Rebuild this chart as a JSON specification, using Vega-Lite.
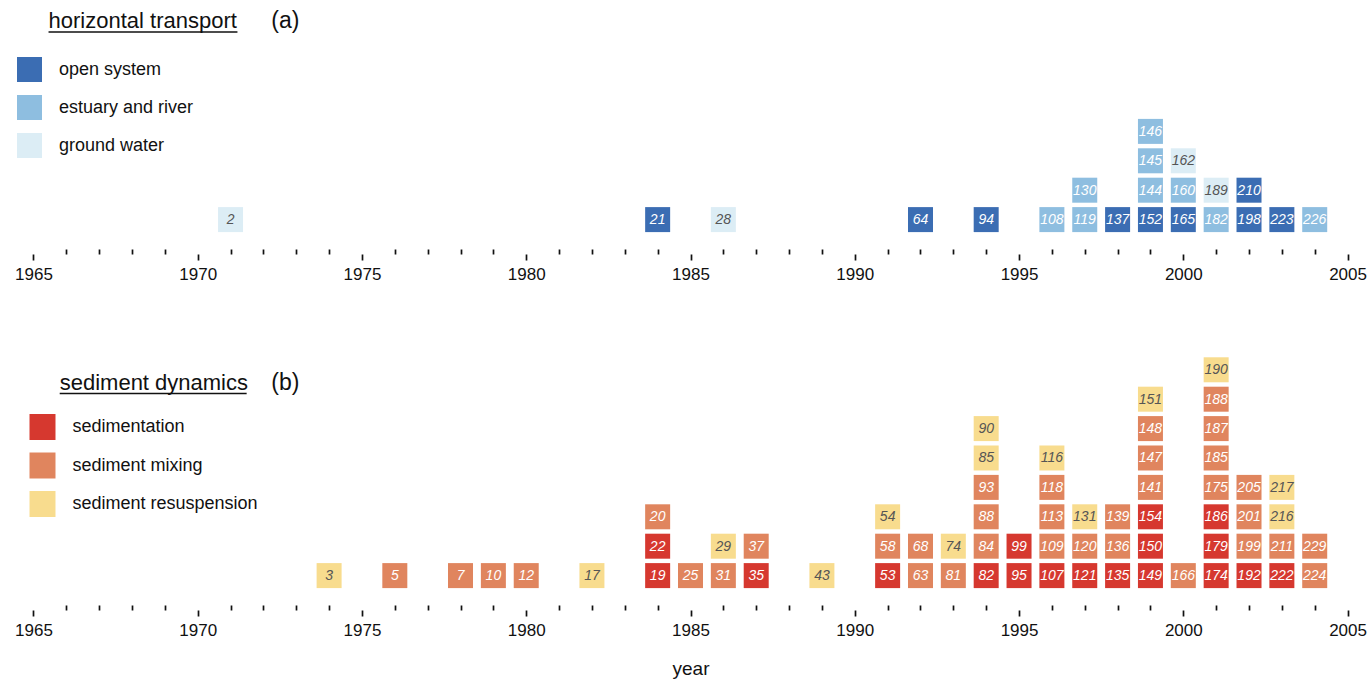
{
  "$schema": "https://vega.github.io/schema/vega-lite/v6.json",
  "background": "white",
  "padding": {"left": 14, "top": 0, "right": 5, "bottom": 5},
  "config": {"view": {"stroke": null}, "font": "Liberation Sans"},
  "spacing": 74,
  "resolve": {"scale": {"color": "independent"}},
  "datasets": {
    "transport": [
      {"year": 1971, "id": 2, "type": "ground water"},
      {"year": 1984, "id": 21, "type": "open system"},
      {"year": 1986, "id": 28, "type": "ground water"},
      {"year": 1992, "id": 64, "type": "open system"},
      {"year": 1994, "id": 94, "type": "open system"},
      {"year": 1996, "id": 108, "type": "estuary and river"},
      {"year": 1997, "id": 119, "type": "estuary and river"},
      {"year": 1997, "id": 130, "type": "estuary and river"},
      {"year": 1998, "id": 137, "type": "open system"},
      {"year": 1999, "id": 152, "type": "open system"},
      {"year": 1999, "id": 144, "type": "estuary and river"},
      {"year": 1999, "id": 145, "type": "estuary and river"},
      {"year": 1999, "id": 146, "type": "estuary and river"},
      {"year": 2000, "id": 165, "type": "open system"},
      {"year": 2000, "id": 160, "type": "estuary and river"},
      {"year": 2000, "id": 162, "type": "ground water"},
      {"year": 2001, "id": 182, "type": "estuary and river"},
      {"year": 2001, "id": 189, "type": "ground water"},
      {"year": 2002, "id": 198, "type": "open system"},
      {"year": 2002, "id": 210, "type": "open system"},
      {"year": 2003, "id": 223, "type": "open system"},
      {"year": 2004, "id": 226, "type": "estuary and river"}
    ],
    "sediment": [
      {"year": 1974, "id": 3, "type": "sediment resuspension"},
      {"year": 1976, "id": 5, "type": "sediment mixing"},
      {"year": 1978, "id": 7, "type": "sediment mixing"},
      {"year": 1979, "id": 10, "type": "sediment mixing"},
      {"year": 1980, "id": 12, "type": "sediment mixing"},
      {"year": 1982, "id": 17, "type": "sediment resuspension"},
      {"year": 1984, "id": 19, "type": "sedimentation"},
      {"year": 1984, "id": 22, "type": "sedimentation"},
      {"year": 1984, "id": 20, "type": "sediment mixing"},
      {"year": 1985, "id": 25, "type": "sediment mixing"},
      {"year": 1986, "id": 31, "type": "sediment mixing"},
      {"year": 1986, "id": 29, "type": "sediment resuspension"},
      {"year": 1987, "id": 35, "type": "sedimentation"},
      {"year": 1987, "id": 37, "type": "sediment mixing"},
      {"year": 1989, "id": 43, "type": "sediment resuspension"},
      {"year": 1991, "id": 53, "type": "sedimentation"},
      {"year": 1991, "id": 58, "type": "sediment mixing"},
      {"year": 1991, "id": 54, "type": "sediment resuspension"},
      {"year": 1992, "id": 63, "type": "sediment mixing"},
      {"year": 1992, "id": 68, "type": "sediment mixing"},
      {"year": 1993, "id": 81, "type": "sediment mixing"},
      {"year": 1993, "id": 74, "type": "sediment resuspension"},
      {"year": 1994, "id": 82, "type": "sedimentation"},
      {"year": 1994, "id": 84, "type": "sediment mixing"},
      {"year": 1994, "id": 88, "type": "sediment mixing"},
      {"year": 1994, "id": 93, "type": "sediment mixing"},
      {"year": 1994, "id": 85, "type": "sediment resuspension"},
      {"year": 1994, "id": 90, "type": "sediment resuspension"},
      {"year": 1995, "id": 95, "type": "sedimentation"},
      {"year": 1995, "id": 99, "type": "sedimentation"},
      {"year": 1996, "id": 107, "type": "sedimentation"},
      {"year": 1996, "id": 109, "type": "sediment mixing"},
      {"year": 1996, "id": 113, "type": "sediment mixing"},
      {"year": 1996, "id": 118, "type": "sediment mixing"},
      {"year": 1996, "id": 116, "type": "sediment resuspension"},
      {"year": 1997, "id": 121, "type": "sedimentation"},
      {"year": 1997, "id": 120, "type": "sediment mixing"},
      {"year": 1997, "id": 131, "type": "sediment resuspension"},
      {"year": 1998, "id": 135, "type": "sedimentation"},
      {"year": 1998, "id": 136, "type": "sediment mixing"},
      {"year": 1998, "id": 139, "type": "sediment mixing"},
      {"year": 1999, "id": 149, "type": "sedimentation"},
      {"year": 1999, "id": 150, "type": "sedimentation"},
      {"year": 1999, "id": 154, "type": "sedimentation"},
      {"year": 1999, "id": 141, "type": "sediment mixing"},
      {"year": 1999, "id": 147, "type": "sediment mixing"},
      {"year": 1999, "id": 148, "type": "sediment mixing"},
      {"year": 1999, "id": 151, "type": "sediment resuspension"},
      {"year": 2000, "id": 166, "type": "sediment mixing"},
      {"year": 2001, "id": 174, "type": "sedimentation"},
      {"year": 2001, "id": 179, "type": "sedimentation"},
      {"year": 2001, "id": 186, "type": "sedimentation"},
      {"year": 2001, "id": 175, "type": "sediment mixing"},
      {"year": 2001, "id": 185, "type": "sediment mixing"},
      {"year": 2001, "id": 187, "type": "sediment mixing"},
      {"year": 2001, "id": 188, "type": "sediment mixing"},
      {"year": 2001, "id": 190, "type": "sediment resuspension"},
      {"year": 2002, "id": 192, "type": "sedimentation"},
      {"year": 2002, "id": 199, "type": "sediment mixing"},
      {"year": 2002, "id": 201, "type": "sediment mixing"},
      {"year": 2002, "id": 205, "type": "sediment mixing"},
      {"year": 2003, "id": 222, "type": "sedimentation"},
      {"year": 2003, "id": 211, "type": "sediment mixing"},
      {"year": 2003, "id": 216, "type": "sediment resuspension"},
      {"year": 2003, "id": 217, "type": "sediment resuspension"},
      {"year": 2004, "id": 224, "type": "sediment mixing"},
      {"year": 2004, "id": 229, "type": "sediment mixing"}
    ]
  },
  "vconcat": [
    {
      "width": 1347,
      "height": 249,
      "layer": [
        {
          "data": {"name": "transport"},
          "transform": [{"window": [{"op": "row_number", "as": "lvl"}], "groupby": ["year"]}],
          "layer": [
            {
              "mark": {"type": "square", "size": 625, "opacity": 1, "filled": true},
              "encoding": {
                "x": {
                  "field": "year", "type": "quantitative",
                  "scale": {"domain": [1964.5, 2005.5], "nice": false, "zero": false},
                  "axis": {
                    "values": [1965,1966,1967,1968,1969,1970,1971,1972,1973,1974,1975,1976,1977,1978,1979,1980,1981,1982,1983,1984,1985,1986,1987,1988,1989,1990,1991,1992,1993,1994,1995,1996,1997,1998,1999,2000,2001,2002,2003,2004,2005],
                    "tickCount": 100,
                    "format": "d",
                    "labelExpr": "datum.value % 5 === 0 ? datum.label : ''",
                    "domain": false, "grid": false,
                    "tickSize": 11, "tickWidth": 1.7, "tickColor": "#111111",
                    "tickDash": {"condition": {"test": "datum.value % 5 === 0", "value": [0, 5, 6, 30]}, "value": [5, 30]},
                    "labelFontSize": 17, "labelPadding": 6, "labelColor": "#111111",
                    "labelFlush": false, "labelOverlap": false, "labelBound": false,
                    "title": null
                  }
                },
                "y": {
                  "field": "lvl", "type": "quantitative",
                  "scale": {"domain": [0, 8.469], "nice": false, "zero": false},
                  "axis": null
                },
                "color": {
                  "field": "type", "type": "nominal",
                  "scale": {"domain": ["open system", "estuary and river", "ground water"], "range": ["#3b6db3", "#8ebee0", "#dcedf5"]},
                  "legend": {
                    "orient": "none", "legendX": 0, "legendY": 57, "title": null, "padding": 0,
                    "symbolType": "square", "symbolSize": 625, "symbolStrokeWidth": 0, "symbolOpacity": 1,
                    "labelFontSize": 18, "labelOffset": 17, "rowPadding": 13, "labelColor": "#111111", "labelLimit": 400
                  }
                }
              }
            },
            {
              "mark": {"type": "text", "fontSize": 14, "fontStyle": "italic", "align": "center", "baseline": "middle", "dy": 0.5},
              "encoding": {
                "x": {"field": "year", "type": "quantitative"},
                "y": {"field": "lvl", "type": "quantitative", "axis": null},
                "text": {"field": "id", "type": "nominal"},
                "color": {"condition": {"test": "datum.type === 'ground water'", "value": "#555555"}, "value": "#ffffff"}
              }
            }
          ]
        },
        {
          "data": {"values": [{}]},
          "mark": {"type": "text", "text": "horizontal transport", "fontSize": 22, "align": "left", "baseline": "alphabetic", "color": "#111111"},
          "encoding": {
            "x": {"datum": 1965.46, "type": "quantitative"},
            "y": {"datum": 7.5, "type": "quantitative", "axis": null}
          }
        },
        {
          "data": {"values": [{}]},
          "mark": {"type": "text", "text": "(a)", "fontSize": 23, "align": "left", "baseline": "alphabetic", "color": "#111111"},
          "encoding": {
            "x": {"datum": 1972.24, "type": "quantitative"},
            "y": {"datum": 7.5, "type": "quantitative", "axis": null}
          }
        },
        {
          "data": {"values": [{}]},
          "mark": {"type": "rule", "strokeWidth": 1.5, "color": "#111111"},
          "encoding": {
            "x": {"datum": 1965.46, "type": "quantitative"},
            "x2": {"datum": 1971.21},
            "y": {"datum": 7.38, "type": "quantitative", "axis": null}
          }
        }
      ]
    },
    {
      "width": 1347,
      "height": 249,
      "layer": [
        {
          "data": {"name": "sediment"},
          "transform": [{"window": [{"op": "row_number", "as": "lvl"}], "groupby": ["year"]}],
          "layer": [
            {
              "mark": {"type": "square", "size": 625, "opacity": 1, "filled": true},
              "encoding": {
                "x": {
                  "field": "year", "type": "quantitative",
                  "scale": {"domain": [1964.5, 2005.5], "nice": false, "zero": false},
                  "axis": {
                    "values": [1965,1966,1967,1968,1969,1970,1971,1972,1973,1974,1975,1976,1977,1978,1979,1980,1981,1982,1983,1984,1985,1986,1987,1988,1989,1990,1991,1992,1993,1994,1995,1996,1997,1998,1999,2000,2001,2002,2003,2004,2005],
                    "tickCount": 100,
                    "format": "d",
                    "labelExpr": "datum.value % 5 === 0 ? datum.label : ''",
                    "domain": false, "grid": false,
                    "tickSize": 11, "tickWidth": 1.7, "tickColor": "#111111",
                    "tickDash": {"condition": {"test": "datum.value % 5 === 0", "value": [0, 5, 6, 30]}, "value": [5, 30]},
                    "labelFontSize": 17, "labelPadding": 6, "labelColor": "#111111",
                    "labelFlush": false, "labelOverlap": false, "labelBound": false,
                    "title": "year", "titleFontSize": 19, "titleFontWeight": "normal", "titleColor": "#111111", "titlePadding": 21
                  }
                },
                "y": {
                  "field": "lvl", "type": "quantitative",
                  "scale": {"domain": [0, 8.469], "nice": false, "zero": false},
                  "axis": null
                },
                "color": {
                  "field": "type", "type": "nominal",
                  "scale": {"domain": ["sedimentation", "sediment mixing", "sediment resuspension"], "range": ["#d6382f", "#e0855e", "#f8dc8e"]},
                  "legend": {
                    "orient": "none", "legendX": 12.5, "legendY": 58, "title": null, "padding": 0,
                    "symbolType": "square", "symbolSize": 676, "symbolStrokeWidth": 0, "symbolOpacity": 1,
                    "labelFontSize": 18, "labelOffset": 17, "rowPadding": 12.5, "labelColor": "#111111", "labelLimit": 400
                  }
                }
              }
            },
            {
              "mark": {"type": "text", "fontSize": 14, "fontStyle": "italic", "align": "center", "baseline": "middle", "dy": 0.5},
              "encoding": {
                "x": {"field": "year", "type": "quantitative"},
                "y": {"field": "lvl", "type": "quantitative", "axis": null},
                "text": {"field": "id", "type": "nominal"},
                "color": {"condition": {"test": "datum.type === 'sediment resuspension'", "value": "#555555"}, "value": "#ffffff"}
              }
            }
          ]
        },
        {
          "data": {"values": [{}]},
          "mark": {"type": "text", "text": "sediment dynamics", "fontSize": 22, "align": "left", "baseline": "alphabetic", "color": "#111111"},
          "encoding": {
            "x": {"datum": 1965.8, "type": "quantitative"},
            "y": {"datum": 7.31, "type": "quantitative", "axis": null}
          }
        },
        {
          "data": {"values": [{}]},
          "mark": {"type": "text", "text": "(b)", "fontSize": 23, "align": "left", "baseline": "alphabetic", "color": "#111111"},
          "encoding": {
            "x": {"datum": 1972.24, "type": "quantitative"},
            "y": {"datum": 7.31, "type": "quantitative", "axis": null}
          }
        },
        {
          "data": {"values": [{}]},
          "mark": {"type": "rule", "strokeWidth": 1.5, "color": "#111111"},
          "encoding": {
            "x": {"datum": 1965.8, "type": "quantitative"},
            "x2": {"datum": 1971.49},
            "y": {"datum": 7.19, "type": "quantitative", "axis": null}
          }
        }
      ]
    }
  ]
}
